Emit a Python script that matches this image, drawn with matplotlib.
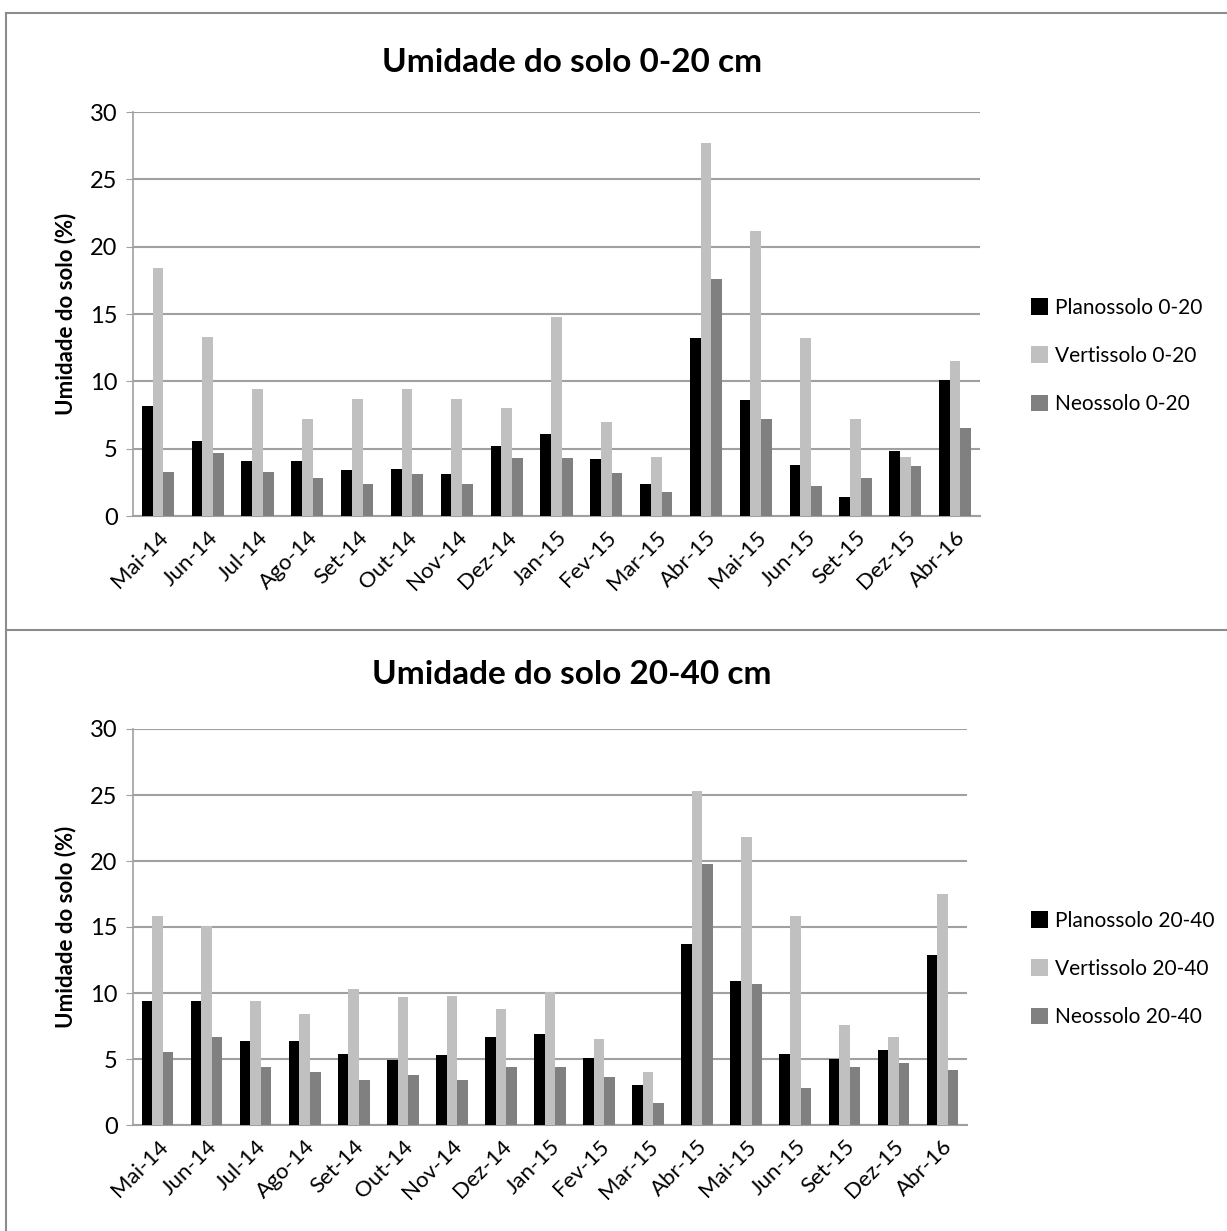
import matplotlib
matplotlib.use("Agg")
import matplotlib.pyplot as plt
from matplotlib.lines import Line2D
import numpy as np

plt.rcParams['font.family'] = ['Lato', 'DejaVu Sans']

months = ["Mai-14", "Jun-14", "Jul-14", "Ago-14", "Set-14", "Out-14", "Nov-14",
          "Dez-14", "Jan-15", "Fev-15", "Mar-15", "Abr-15", "Mai-15", "Jun-15",
          "Set-15", "Dez-15", "Abr-16"]

# 0-20 cm
plano_020 = [8.2, 5.6, 4.1, 4.1, 3.4, 3.5, 3.1, 5.2, 6.1, 4.2, 2.4, 13.2, 8.6, 3.8, 1.4, 4.8, 10.1]
verti_020 = [18.4, 13.3, 9.4, 7.2, 8.7, 9.4, 8.7, 8.0, 14.8, 7.0, 4.4, 27.7, 21.2, 13.2, 7.2, 4.4, 11.5]
neo_020 = [3.3, 4.7, 3.3, 2.8, 2.4, 3.1, 2.4, 4.3, 4.3, 3.2, 1.8, 17.6, 7.2, 2.2, 2.8, 3.7, 6.5]

# 20-40 cm
plano_2040 = [9.4, 9.4, 6.4, 6.4, 5.4, 4.9, 5.3, 6.7, 6.9, 5.1, 3.0, 13.7, 10.9, 5.4, 5.0, 5.7, 12.9]
verti_2040 = [15.8, 15.1, 9.4, 8.4, 10.3, 9.7, 9.8, 8.8, 10.1, 6.5, 4.0, 25.3, 21.8, 15.8, 7.6, 6.7, 17.5]
neo_2040 = [5.5, 6.7, 4.4, 4.0, 3.4, 3.8, 3.4, 4.4, 4.4, 3.6, 1.7, 19.8, 10.7, 2.8, 4.4, 4.7, 4.2]

colors = ["#000000", "#C0C0C0", "#808080"]

W, H = 1227, 1231
fig = plt.figure(figsize=(W / 100.0, H / 100.0), dpi=100)


def draw(rect, series, labels, title, title_y, legend_y):
    ax = fig.add_axes(rect)
    x = np.arange(len(months))
    bw = 0.215
    for i, (vals, lab) in enumerate(zip(series, labels)):
        ax.bar(x + (i - 1) * bw, vals, bw, color=colors[i], label=lab, zorder=3)
    ax.set_xlim(-0.5, len(months) - 0.5)
    ax.set_ylim(0, 30)
    ax.set_yticks(range(0, 31, 5))
    ax.set_xticks(x)
    ax.set_xticklabels(months, rotation=45, ha="right", rotation_mode="anchor", fontsize=16)
    ax.tick_params(axis="x", length=0, pad=8)
    ax.tick_params(axis="y", labelsize=17, length=5, color="#A0A0A0", pad=6)
    ax.grid(axis="y", color="#A0A0A0", linewidth=1.5, zorder=0)
    for s in ["top", "right"]:
        ax.spines[s].set_visible(False)
    ax.spines["left"].set_color("#A0A0A0")
    ax.spines["bottom"].set_color("#A0A0A0")
    ax.spines["left"].set_linewidth(1.2)
    ax.spines["bottom"].set_linewidth(1.5)
    ax.set_ylabel("Umidade do solo (%)", fontsize=16, fontweight="bold", labelpad=10)
    fig.text(572 / W, 1 - title_y / H, title, fontsize=24, fontweight="bold",
             ha="center", va="center")
    fig.legend(*ax.get_legend_handles_labels(), loc="center left",
               bbox_to_anchor=(1012 / W, 1 - legend_y / H), frameon=False,
               fontsize=15, handlelength=0.85, handleheight=0.85,
               handletextpad=0.3, labelspacing=1.35)
    return ax


draw([133 / W, 1 - 516 / H, (980 - 133) / W, (516 - 112) / H],
     [plano_020, verti_020, neo_020],
     ["Planossolo 0-20", "Vertissolo 0-20", "Neossolo 0-20"],
     "Umidade do solo 0-20 cm", 62, 356)

draw([133 / W, 1 - 1125 / H, (967 - 133) / W, (1125 - 729) / H],
     [plano_2040, verti_2040, neo_2040],
     ["Planossolo 20-40", "Vertissolo 20-40", "Neossolo 20-40"],
     "Umidade do solo 20-40 cm", 675, 969)

# chart area borders
fig.add_artist(Line2D([6 / W, 6 / W], [0, 1 - 13 / H], color="#8C8C8C", linewidth=1.5))
fig.add_artist(Line2D([6 / W, 1], [1 - 13 / H, 1 - 13 / H], color="#8C8C8C", linewidth=1.5))
fig.add_artist(Line2D([6 / W, 1], [1 - 630 / H, 1 - 630 / H], color="#8C8C8C", linewidth=1.5))

fig.savefig("out.png", dpi=100, facecolor="white")
